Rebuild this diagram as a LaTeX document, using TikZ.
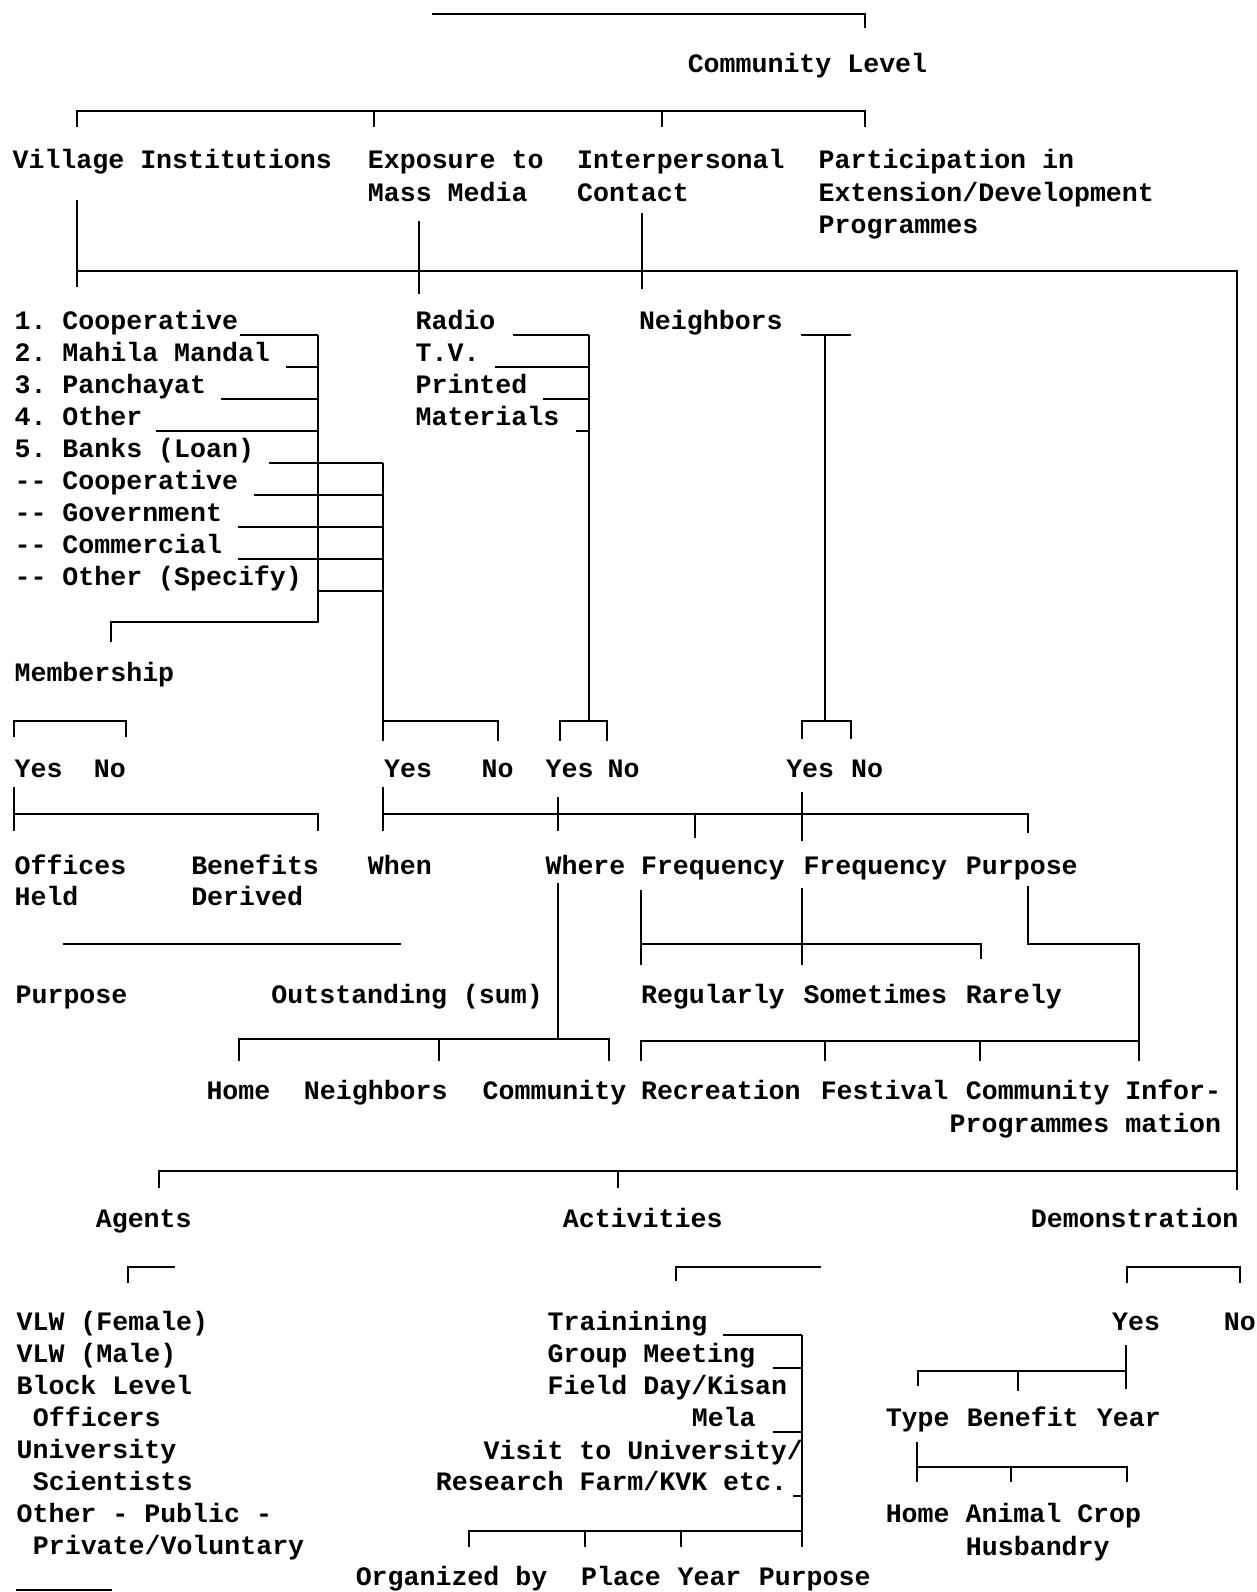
\documentclass[tikz,border=0pt]{standalone}
\usepackage{fontspec}
\newfontfamily\tw{Liberation Mono}
\usetikzlibrary{positioning}
\frenchspacing

\begin{document}
\begin{tikzpicture}[
  x=0.5077pt, y=-0.5077pt,
  txt/.style={anchor=base west, inner sep=0pt, font=\tw\bfseries\fontsize{13.3}{16}\selectfont\frenchspacing},
  ln/.style={line width=1pt}
]
  \useasboundingbox (0,0) rectangle (1238,1568);

  % top
  \node[txt] (comm) at (677,71) {Community Level};
  \draw[ln] (425,14) -| (852,28);
  \draw[ln] (76,125) |- (852,109) -- (852,125);
  \draw[ln] (368,109) -- (368,125);
  \draw[ln] (652,109) -- (652,125);

  \node[txt] (vil)   at (12,166)  {Village Institutions};
  \node[txt] (expo)  at (362,166) {Exposure to};
  \node[txt] (mass)  at (362,198) {Mass Media};
  \node[txt] (inter) at (568,166) {Interpersonal};
  \node[txt] (cont)  at (568,198) {Contact};
  \node[txt] (part)  at (806,166) {Participation in};
  \node[txt] (ext)   at (806,198) {Extension/Development};
  \node[txt] (prog)  at (806,230) {Programmes};

  \draw[ln] (76,197) -- (76,283);
  \draw[ln] (413,218) -- (413,290);
  \draw[ln] (632,210) -- (632,285);
  \draw[ln] (76,267) -- (1218,267) -- (1218,1172);

  % village institutions
  \foreach \t [count=\i from 0] in {1. Cooperative, 2. Mahila Mandal, 3. Panchayat,
      4. Other, 5. Banks (Loan), -\kern0pt- Cooperative, -\kern0pt- Government,
      -\kern0pt- Commercial, -\kern0pt- Other (Specify)}
    \node[txt] (vi\i) at (14,325+31.5*\i) {\t};
  \draw[ln] (236,330) -- (313,330);
  \draw[ln] (282,361.5) -- (313,361.5);
  \draw[ln] (218,393) -- (313,393);
  \draw[ln] (154,424.5) -- (313,424.5);
  \draw[ln] (313,330) -- (313,613) -- (109,613) -- (109,632);
  \draw[ln] (265,456) -- (377,456);
  \draw[ln] (250,487.5) -- (377,487.5);
  \draw[ln] (234,519) -- (377,519);
  \draw[ln] (234,550.5) -- (377,550.5);
  \draw[ln] (313,582) -- (377,582);
  \draw[ln] (377,456) -- (377,730);
  \draw[ln] (377,710) -- (490,710) -- (490,730);

  \node[txt] (memb) at (14,671) {Membership};
  \draw[ln] (14,726) |- (124,710) -- (124,726);

  % mass media
  \foreach \t [count=\i from 0] in {Radio, T.V., Printed, Materials}
    \node[txt] (mm\i) at (409,325+31.5*\i) {\t};
  \draw[ln] (505,330) -- (580,330);
  \draw[ln] (488,361.5) -- (580,361.5);
  \draw[ln] (535,393) -- (580,393);
  \draw[ln] (567,424.5) -- (580,424.5);
  \draw[ln] (580,330) -- (580,710);
  \draw[ln] (552,730) |- (598,710) -- (598,730);

  % neighbors
  \node[txt] (neigh) at (629,325) {Neighbors};
  \draw[ln] (789,330) -- (838,330);
  \draw[ln] (813,330) -- (813,710);
  \draw[ln] (790,728) |- (838,710) -- (838,728);

  % yes / no row
  \node[txt] (y1) at (14,766)  {Yes};
  \node[txt] (n1) at (92,766)  {No};
  \node[txt] (y2) at (378,766) {Yes};
  \node[txt] (n2) at (474,766) {No};
  \node[txt] (y3) at (537,766) {Yes};
  \node[txt] (n3) at (598,766) {No};
  \node[txt] (y4) at (774,766) {Yes};
  \node[txt] (n4) at (838,766) {No};

  \draw[ln] (14,775) -- (14,818);
  \draw[ln] (14,802) -- (313,802) -- (313,818);
  \draw[ln] (377,775) -- (377,818);
  \draw[ln] (377,802) -- (1012,802) -- (1012,820);
  \draw[ln] (550,785) -- (550,818);
  \draw[ln] (685,802) -- (685,825);
  \draw[ln] (790,780) -- (790,828);

  \node[txt] (off)   at (14,861)  {Offices};
  \node[txt] (held)  at (14,892)  {Held};
  \node[txt] (ben)   at (188,861) {Benefits};
  \node[txt] (der)   at (188,892) {Derived};
  \node[txt] (when)  at (362,861) {When};
  \node[txt] (where) at (537,861) {Where};
  \node[txt] (freqa) at (631,861) {Frequency};
  \node[txt] (freqb) at (791,861) {Frequency};
  \node[txt] (purp)  at (951,861) {Purpose};

  \draw[ln] (62,930) -- (395,930);
  \node[txt] (purpl) at (15,988)  {Purpose};
  \node[txt] (outst) at (267,988) {Outstanding (sum)};

  % where
  \draw[ln] (550,870) -- (550,1023);
  \draw[ln] (235,1045) |- (600,1023) -- (600,1045);
  \draw[ln] (432,1023) -- (432,1045);

  % frequency
  \draw[ln] (631,877) -- (631,950);
  \draw[ln] (790,875) -- (790,950);
  \draw[ln] (631,930) -- (966,930) -- (966,945);
  \node[txt] (reg)  at (631,988) {Regularly};
  \node[txt] (some) at (791,988) {Sometimes};
  \node[txt] (rare) at (951,988) {Rarely};

  % purpose
  \draw[ln] (1012,873) |- (1122,930) -- (1122,1045);
  \draw[ln] (631,1045) |- (1122,1025);
  \draw[ln] (813,1025) -- (813,1045);
  \draw[ln] (965,1025) -- (965,1045);

  \node[txt] (home)  at (203,1083) {Home};
  \node[txt] (nbr)   at (299,1083) {Neighbors};
  \node[txt] (cmty)  at (475,1083) {Community};
  \node[txt] (recr)  at (631,1083) {Recreation};
  \node[txt] (fest)  at (808,1083) {Festival};
  \node[txt] (cmtyp) at (951,1083) {Community};
  \node[txt] (progs) at (935,1115) {Programmes};
  \node[txt] (info)  at (1108,1083) {Infor-};
  \node[txt] (infob) at (1108,1115) {mation};

  % participation
  \draw[ln] (157,1170) |- (1218,1153);
  \draw[ln] (609,1153) -- (609,1170);
  \node[txt] (agents) at (94,1209)   {Agents};
  \node[txt] (activ)  at (554,1209)  {Activities};
  \node[txt] (demo)   at (1015,1209) {Demonstration};

  \draw[ln] (126,1264) |- (172,1248);
  \draw[ln] (666,1262) |- (809,1248);
  \draw[ln] (1110,1264) |- (1221,1248) -- (1221,1264);

  % agents
  \foreach \t/\xx [count=\i from 0] in {VLW (Female)/16, VLW (Male)/16, Block Level/16,
      Officers/32, University/16, Scientists/32, Other - Public -/16, {Private/Voluntary}/32}
    \node[txt] (ag\i) at (\xx,1310+31.6*\i) {\t};
  \draw[ln] (16,1566) -- (110,1566);

  % activities
  \node[txt] (act0) at (539,1310) {Trainining};
  \node[txt] (act1) at (539,1342) {Group Meeting};
  \node[txt] (act2) at (539,1373) {Field Day/Kisan};
  \node[txt] (act3) at (681,1405) {Mela};
  \node[txt] (act4) at (476,1437) {Visit to University/};
  \node[txt] (act5) at (429,1468) {Research Farm/KVK etc.};
  \draw[ln] (712,1315) -- (790,1315);
  \draw[ln] (761,1347) -- (790,1347);
  \draw[ln] (761,1410) -- (790,1410);
  \draw[ln] (781,1473) -- (790,1473);
  \draw[ln] (790,1315) -- (790,1524);
  \draw[ln] (462,1524) |- (790,1508);
  \draw[ln] (576,1508) -- (576,1524);
  \draw[ln] (671,1508) -- (671,1524);
  \node[txt] (org)   at (350,1562) {Organized by};
  \node[txt] (place) at (572,1562) {Place};
  \node[txt] (yr)    at (667,1562) {Year};
  \node[txt] (purpa) at (747,1562) {Purpose};

  % demonstration
  \node[txt] (dyes) at (1095,1310) {Yes};
  \node[txt] (dno)  at (1205,1310) {No};
  \draw[ln] (1109,1325) -- (1109,1368);
  \draw[ln] (904,1365) |- (1109,1350);
  \draw[ln] (1003,1350) -- (1003,1370);
  \node[txt] (type) at (872,1405)  {Type};
  \node[txt] (bnf)  at (952,1405)  {Benefit};
  \node[txt] (year) at (1080,1405) {Year};
  \draw[ln] (903,1420) -- (903,1460);
  \draw[ln] (903,1445) -- (1110,1445) -- (1110,1460);
  \draw[ln] (996,1445) -- (996,1460);
  \node[txt] (hac)  at (872,1500) {Home Animal Crop};
  \node[txt] (husb) at (951,1532) {Husbandry};
\end{tikzpicture}
\end{document}
